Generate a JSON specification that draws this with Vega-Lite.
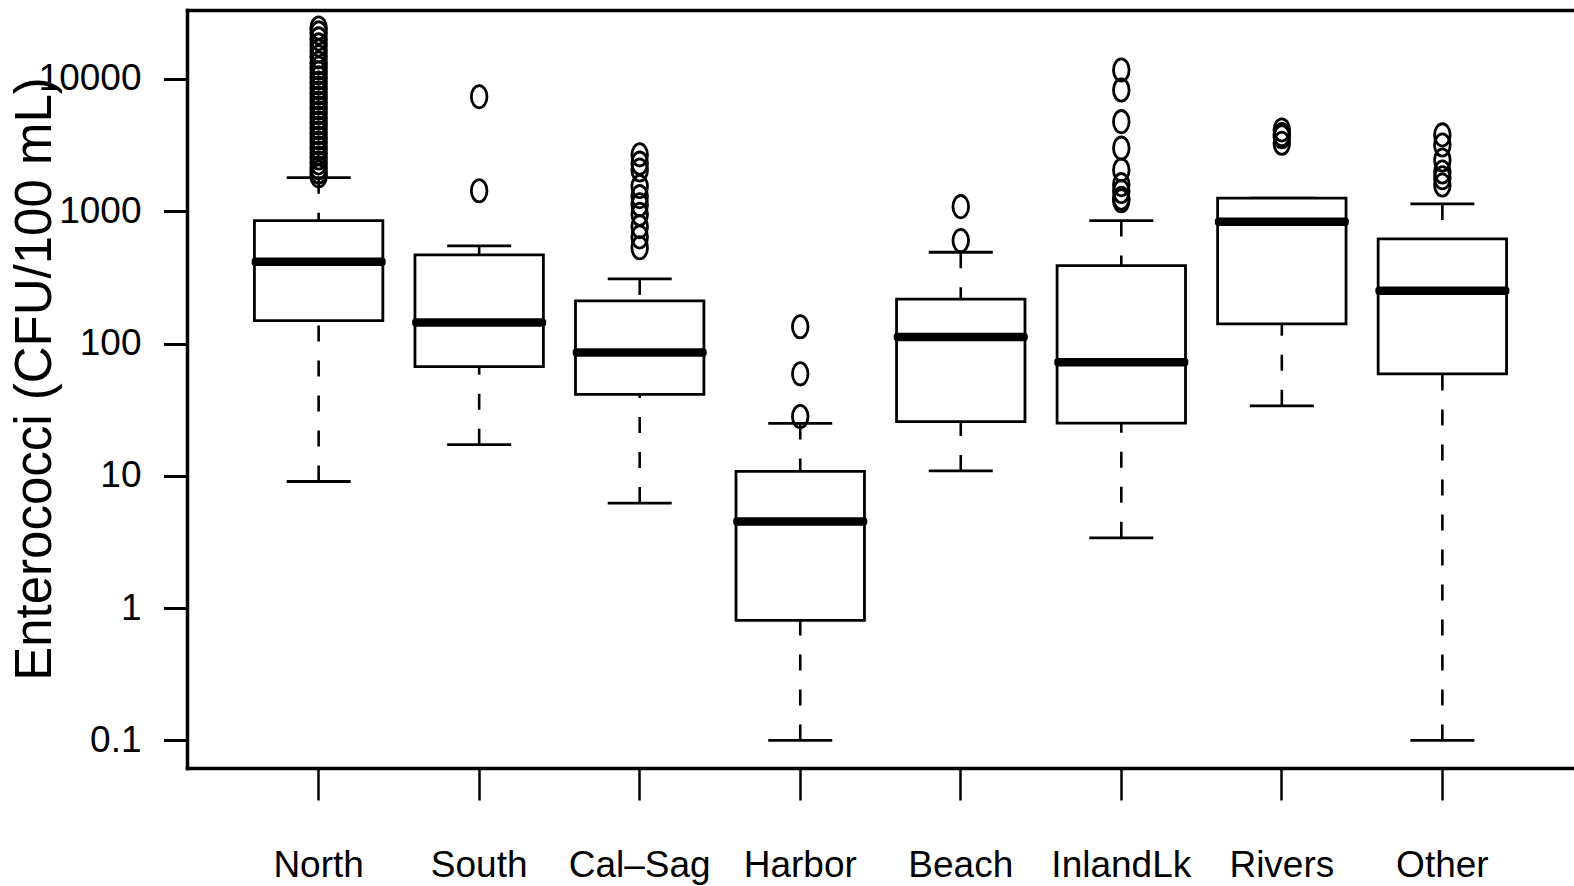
{
  "$schema": "https://vega.github.io/schema/vega-lite/v6.json",
  "autosize": {"type": "none"},
  "padding": {"left": 187, "top": 10, "right": 0, "bottom": 118},
  "width": 1387,
  "height": 758,
  "background": "white",
  "config": {
    "view": {"stroke": null},
    "axis": {"grid": false, "domainColor": "#000", "tickColor": "#000", "labelColor": "#000", "titleColor": "#000", "domainCap": "square"},
    "tick": {"opacity": 1}
  },
  "datasets": {
    "boxes": [
      {"site": "North", "lo": 9.06, "q1": 149, "med": 416, "q3": 850, "hi": 1795},
      {"site": "South", "lo": 17.2, "q1": 67, "med": 144, "q3": 468, "hi": 547},
      {"site": "Cal–Sag", "lo": 6.22, "q1": 41.3, "med": 85.5, "q3": 210, "hi": 308},
      {"site": "Harbor", "lo": 0.1, "q1": 0.807, "med": 4.52, "q3": 10.8, "hi": 24.9},
      {"site": "Beach", "lo": 10.9, "q1": 25.7, "med": 112, "q3": 217, "hi": 490},
      {"site": "InlandLk", "lo": 3.4, "q1": 25.0, "med": 72.3, "q3": 388, "hi": 850},
      {"site": "Rivers", "lo": 33.8, "q1": 141, "med": 835, "q3": 1255, "hi": 1255},
      {"site": "Other", "lo": 0.1, "q1": 59, "med": 251, "q3": 618, "hi": 1137}
    ],
    "outliers": [
      {"site": "North", "v": 1850}, {"site": "North", "v": 1980}, {"site": "North", "v": 2130},
      {"site": "North", "v": 2320}, {"site": "North", "v": 2530}, {"site": "North", "v": 2760},
      {"site": "North", "v": 3010}, {"site": "North", "v": 3280}, {"site": "North", "v": 3580},
      {"site": "North", "v": 3910}, {"site": "North", "v": 4260}, {"site": "North", "v": 4650},
      {"site": "North", "v": 5070}, {"site": "North", "v": 5540}, {"site": "North", "v": 6040},
      {"site": "North", "v": 6590}, {"site": "North", "v": 7180}, {"site": "North", "v": 7840},
      {"site": "North", "v": 8550}, {"site": "North", "v": 9330}, {"site": "North", "v": 10200},
      {"site": "North", "v": 11100}, {"site": "North", "v": 12100}, {"site": "North", "v": 13200},
      {"site": "North", "v": 14700}, {"site": "North", "v": 16300}, {"site": "North", "v": 18100},
      {"site": "North", "v": 20100}, {"site": "North", "v": 22300}, {"site": "North", "v": 24300},
      {"site": "South", "v": 7350}, {"site": "South", "v": 1430},
      {"site": "Cal–Sag", "v": 530}, {"site": "Cal–Sag", "v": 640}, {"site": "Cal–Sag", "v": 765},
      {"site": "Cal–Sag", "v": 950}, {"site": "Cal–Sag", "v": 1120}, {"site": "Cal–Sag", "v": 1290},
      {"site": "Cal–Sag", "v": 1540}, {"site": "Cal–Sag", "v": 2050}, {"site": "Cal–Sag", "v": 2310},
      {"site": "Cal–Sag", "v": 2670},
      {"site": "Harbor", "v": 134}, {"site": "Harbor", "v": 59}, {"site": "Harbor", "v": 28.1},
      {"site": "Beach", "v": 1084}, {"site": "Beach", "v": 600},
      {"site": "InlandLk", "v": 11700}, {"site": "InlandLk", "v": 8260}, {"site": "InlandLk", "v": 4760},
      {"site": "InlandLk", "v": 3000}, {"site": "InlandLk", "v": 2050}, {"site": "InlandLk", "v": 1590},
      {"site": "InlandLk", "v": 1410}, {"site": "InlandLk", "v": 1255}, {"site": "InlandLk", "v": 1200},
      {"site": "Rivers", "v": 4120}, {"site": "Rivers", "v": 3800}, {"site": "Rivers", "v": 3660},
      {"site": "Rivers", "v": 3270},
      {"site": "Other", "v": 3780}, {"site": "Other", "v": 3170}, {"site": "Other", "v": 2440},
      {"site": "Other", "v": 1980}, {"site": "Other", "v": 1790}, {"site": "Other", "v": 1580}
    ]
  },
  "resolve": {"axis": {"x": "independent"}},
  "layer": [
    {
      "data": {"name": "boxes"},
      "mark": {"type": "rule", "color": "#000", "strokeWidth": 2.6, "strokeDash": [16, 19]},
      "encoding": {
        "x": {"field": "site", "type": "nominal",
              "scale": {"type": "band", "domain": ["North", "South", "Cal–Sag", "Harbor", "Beach", "InlandLk", "Rivers", "Other"], "paddingInner": 0.2, "paddingOuter": 0.42},
              "axis": {"orient": "bottom", "title": null, "domain": true, "domainWidth": 3.5, "ticks": true, "tickSize": 32, "tickWidth": 2.5,
                       "labelAngle": 0, "labelFont": "Liberation Sans", "labelFontSize": 37,
                       "labelBaseline": "alphabetic", "labelPadding": 76}},
        "y": {"field": "hi", "type": "quantitative",
              "scale": {"type": "log", "domain": [0.06185, 33230], "nice": false},
              "axis": {"orient": "left", "domain": true, "domainWidth": 3.5, "ticks": true, "tickSize": 23.5, "tickWidth": 3,
                       "values": [0.1, 1, 10, 100, 1000, 10000], "format": "~g",
                       "labelFont": "Liberation Sans", "labelFontSize": 37, "labelPadding": 22.5,
                       "title": "Enterococci (CFU/100 mL)", "titleFont": "Liberation Sans", "titleFontSize": 51,
                       "titleFontWeight": "normal", "titleAngle": -90, "titleX": -137, "titleY": 368.5,
                       "titleBaseline": "alphabetic", "titleAlign": "center"}},
        "y2": {"field": "q3"}
      }
    },
    {
      "data": {"name": "boxes"},
      "mark": {"type": "rule", "color": "#000", "strokeWidth": 2.6, "strokeDash": [16, 19]},
      "encoding": {
        "x": {"field": "site", "type": "nominal",
              "scale": {"type": "band", "domain": ["North", "South", "Cal–Sag", "Harbor", "Beach", "InlandLk", "Rivers", "Other"], "paddingInner": 0.2, "paddingOuter": 0.42},
              "axis": {"orient": "top", "title": null, "domain": true, "domainWidth": 3.5, "ticks": false, "labels": false}},
        "y": {"field": "lo", "type": "quantitative", "scale": {"type": "log", "domain": [0.06185, 33230], "nice": false}},
        "y2": {"field": "q1"}
      }
    },
    {
      "data": {"name": "boxes"},
      "mark": {"type": "tick", "color": "#000", "opacity": 1, "size": 64, "thickness": 2.8, "orient": "horizontal"},
      "encoding": {
        "x": {"field": "site", "type": "nominal", "axis": null,
              "scale": {"type": "band", "domain": ["North", "South", "Cal–Sag", "Harbor", "Beach", "InlandLk", "Rivers", "Other"], "paddingInner": 0.2, "paddingOuter": 0.42}},
        "y": {"field": "hi", "type": "quantitative", "scale": {"type": "log", "domain": [0.06185, 33230], "nice": false}}
      }
    },
    {
      "data": {"name": "boxes"},
      "mark": {"type": "tick", "color": "#000", "opacity": 1, "size": 64, "thickness": 2.8, "orient": "horizontal"},
      "encoding": {
        "x": {"field": "site", "type": "nominal", "axis": null,
              "scale": {"type": "band", "domain": ["North", "South", "Cal–Sag", "Harbor", "Beach", "InlandLk", "Rivers", "Other"], "paddingInner": 0.2, "paddingOuter": 0.42}},
        "y": {"field": "lo", "type": "quantitative", "scale": {"type": "log", "domain": [0.06185, 33230], "nice": false}}
      }
    },
    {
      "data": {"name": "boxes"},
      "mark": {"type": "bar", "fill": "white", "stroke": "#000", "strokeWidth": 2.8},
      "encoding": {
        "x": {"field": "site", "type": "nominal", "axis": null,
              "scale": {"type": "band", "domain": ["North", "South", "Cal–Sag", "Harbor", "Beach", "InlandLk", "Rivers", "Other"], "paddingInner": 0.2, "paddingOuter": 0.42}},
        "y": {"field": "q3", "type": "quantitative", "scale": {"type": "log", "domain": [0.06185, 33230], "nice": false}},
        "y2": {"field": "q1"}
      }
    },
    {
      "data": {"name": "boxes"},
      "mark": {"type": "tick", "color": "#000", "opacity": 1, "size": 134, "thickness": 8.5, "orient": "horizontal", "cornerRadius": 3},
      "encoding": {
        "x": {"field": "site", "type": "nominal", "axis": null,
              "scale": {"type": "band", "domain": ["North", "South", "Cal–Sag", "Harbor", "Beach", "InlandLk", "Rivers", "Other"], "paddingInner": 0.2, "paddingOuter": 0.42}},
        "y": {"field": "med", "type": "quantitative", "scale": {"type": "log", "domain": [0.06185, 33230], "nice": false}}
      }
    },
    {
      "data": {"name": "outliers"},
      "mark": {"type": "point", "filled": false, "stroke": "#000", "strokeWidth": 2.8, "opacity": 1,
               "shape": "M-0.7,0A0.7,1,0,1,0,0.7,0A0.7,1,0,1,0,-0.7,0Z", "size": 497},
      "encoding": {
        "x": {"field": "site", "type": "nominal", "axis": null,
              "scale": {"type": "band", "domain": ["North", "South", "Cal–Sag", "Harbor", "Beach", "InlandLk", "Rivers", "Other"], "paddingInner": 0.2, "paddingOuter": 0.42}},
        "y": {"field": "v", "type": "quantitative", "scale": {"type": "log", "domain": [0.06185, 33230], "nice": false}}
      }
    }
  ]
}
